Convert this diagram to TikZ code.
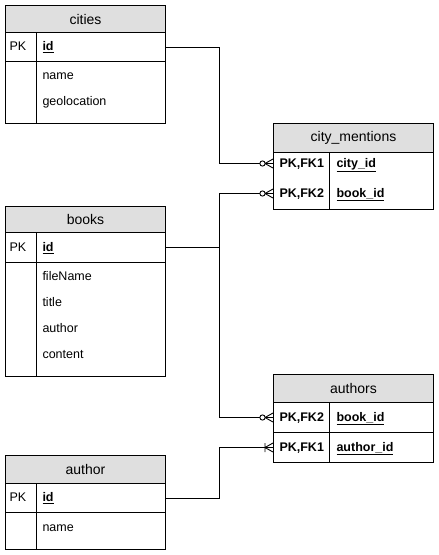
\documentclass[tikz,border=0pt]{standalone}
\usepackage{fontspec}
\setmainfont{Liberation Sans}
\begin{document}
\begin{tikzpicture}[x=1pt,y=-1pt,line width=1pt,
  hdr/.style={draw, fill=gray!25, minimum width=160, inner sep=0, anchor=north west, font=\fontsize{14}{16}\selectfont},
  box/.style={draw, minimum width=160, inner sep=0, anchor=north west},
  ghost/.style={minimum width=160, inner sep=0, anchor=north west},
  txt/.style={anchor=base west, yshift=-4.3pt, inner sep=0, font=\fontsize{12.5}{15}\selectfont},
  zeromany/.pic={\draw[line width=0.9pt] (-8,0) -- (0,-4.5) (-8,0) -- (0,4.5); \draw[line width=0.9pt,fill=white] (-10.5,0) circle (2.6);},
  onemany/.pic={\draw[line width=0.9pt] (-8,0) -- (0,-4.5) (-8,0) -- (0,4.5) (-8,-4.5) -- (-8,4.5);}
]
\useasboundingbox (0,0) rectangle (439,555);

% cities
\node[hdr, minimum height=27] (citiesH) at (5,5) {cities};
\node[box, minimum height=29] (citiesPK) at (5,32) {};
\node[box, minimum height=62] (citiesB) at (5,61) {};
\draw ([xshift=31]citiesPK.north west) -- ([xshift=31]citiesB.south west);
\node[txt] (citiesPKt) at (9,46.5) {PK};
\node[txt] (citiesId) at (42,46.5) {\textbf{\underline{id}}};
\node[txt] (citiesName) at (42,75) {name};
\node[txt] (citiesGeo) at (42,101) {geolocation};

% books
\node[hdr, minimum height=26] (booksH) at (5,206) {books};
\node[box, minimum height=30] (booksPK) at (5,232) {};
\node[box, minimum height=114] (booksB) at (5,262) {};
\draw ([xshift=31]booksPK.north west) -- ([xshift=31]booksB.south west);
\node[txt] (booksPKt) at (9,247) {PK};
\node[txt] (booksId) at (42,247) {\textbf{\underline{id}}};
\node[txt] (booksFile) at (42,276) {fileName};
\node[txt] (booksTitle) at (42,302) {title};
\node[txt] (booksAuthor) at (42,328) {author};
\node[txt] (booksContent) at (42,354) {content};

% author
\node[hdr, minimum height=28] (authorH) at (5,455) {author};
\node[box, minimum height=29] (authorPK) at (5,483) {};
\node[box, minimum height=37] (authorB) at (5,512) {};
\draw ([xshift=31]authorPK.north west) -- ([xshift=31]authorB.south west);
\node[txt] (authorPKt) at (9,497.5) {PK};
\node[txt] (authorId) at (42,497.5) {\textbf{\underline{id}}};
\node[txt] (authorName) at (42,527) {name};

% city_mentions
\node[hdr, minimum height=29] (cmH) at (273,123) {city\_mentions};
\node[box, minimum height=57] (cmB) at (273,152) {};
\node[ghost, minimum height=30] (cmR1) at (273,148) {};
\node[ghost, minimum height=30] (cmR2) at (273,178) {};
\draw ([xshift=56]cmB.north west) -- ([xshift=56]cmB.south west);
\node[txt] (cmK1) at (279,163) {\textbf{PK,FK1}};
\node[txt] (cmC1) at (336,163) {\textbf{\underline{city\_id}}};
\node[txt] (cmK2) at (279,193) {\textbf{PK,FK2}};
\node[txt] (cmC2) at (336,193) {\textbf{\underline{book\_id}}};

% authors
\node[hdr, minimum height=28] (auH) at (273,374) {authors};
\node[box, minimum height=30] (auR1) at (273,402) {};
\node[box, minimum height=30] (auR2) at (273,432) {};
\draw ([xshift=56]auR1.north west) -- ([xshift=56]auR2.south west);
\node[txt] (auK1) at (279,417) {\textbf{PK,FK2}};
\node[txt] (auC1) at (336,417) {\textbf{\underline{book\_id}}};
\node[txt] (auK2) at (279,447) {\textbf{PK,FK1}};
\node[txt] (auC2) at (336,447) {\textbf{\underline{author\_id}}};

% connectors
\draw (citiesPK.east) -- ++(53,0) |- (cmR1.west);
\draw (booksPK.east) -- ++(53,0) coordinate (bj);
\draw (bj) |- (cmR2.west);
\draw (bj) |- (auR1.west);
\draw (authorPK.east) -- ++(53,0) |- (auR2.west);
\pic at (cmR1.west) {zeromany};
\pic at (cmR2.west) {zeromany};
\pic at (auR1.west) {zeromany};
\pic at (auR2.west) {onemany};
\end{tikzpicture}
\end{document}
